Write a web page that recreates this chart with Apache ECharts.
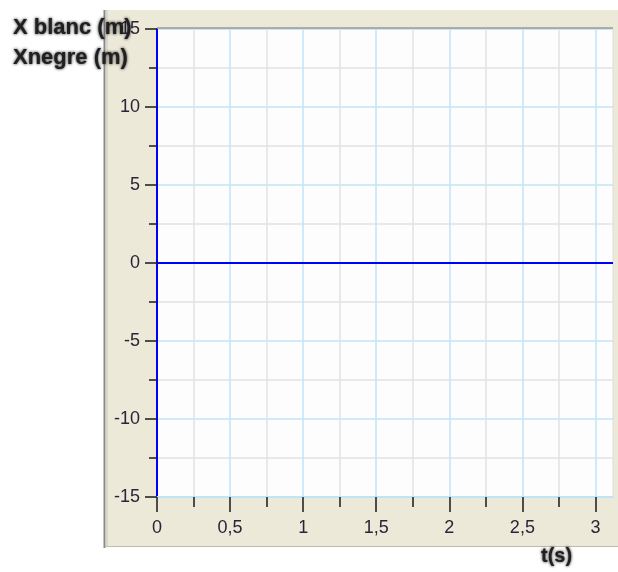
<!DOCTYPE html>
<html>
<head>
<meta charset="utf-8">
<script src="https://cdn.jsdelivr.net/npm/echarts@6/dist/echarts.min.js"></script>
<style>
  html, body { margin: 0; padding: 0; background: #ffffff; }
  #chart { width: 618px; height: 572px; }
</style>
</head>
<body>
<div id="chart"></div>
<script>
// Time samples (s) and positions (m) of the two pieces
const time = [0, 3.12];
const xBlanc = [0, 0];
const xNegre = [0, 0];

// Axis ranges and ticks
const tMin = 0, tMax = 3.12;
const tMajorTicks = [0, 0.5, 1, 1.5, 2, 2.5, 3];
const tMinorTicks = [0.25, 0.75, 1.25, 1.75, 2.25, 2.75];
const yMin = -15, yMax = 15, yStep = 5;
const yTitles = ['X blanc (m)', 'Xnegre (m)'];
const tTitle = 't(s)';

const labelFont = '"Liberation Sans", Arial, sans-serif';
const titleFont = 'bold 22px "Liberation Sans", Arial, sans-serif';
const labelColor = '#2b2438';
const majorGrid = '#bfe4f8';
const minorGrid = '#e2e2e2';
const tickColor = '#1a1a1a';

const pairs = (xs, ys) => xs.map((x, i) => [x, ys[i]]);
const commaNum = v => String(v).replace('.', ',');
const titleStyle = text => ({
  text, font: titleFont, fill: '#202020',
  textShadowColor: 'rgba(10,10,10,0.95)', textShadowBlur: 3
});

const chart = echarts.init(document.getElementById('chart'));
chart.setOption({
  animation: false,
  graphic: [
    // beige panel behind the plot
    { type: 'rect', z: -10, shape: { x: 106, y: 10, width: 512, height: 536 },
      style: { fill: '#ece9d8' } },
    { type: 'line', z: -9, shape: { x1: 104.5, y1: 10, x2: 104.5, y2: 548 },
      style: { stroke: '#8a8a8a', lineWidth: 2 } },
    { type: 'line', z: -9, shape: { x1: 107, y1: 10, x2: 107, y2: 546 },
      style: { stroke: '#c8c6b8', lineWidth: 1 } },
    { type: 'line', z: -9, shape: { x1: 106, y1: 546.5, x2: 618, y2: 546.5 },
      style: { stroke: '#bdbbae', lineWidth: 1 } },
    { type: 'line', z: 5, shape: { x1: 157, y1: 28, x2: 613, y2: 28 },
      style: { stroke: '#9c9a90', lineWidth: 1.5 } },
    // axis titles
    { type: 'text', z: 20, left: 13, top: 17, style: titleStyle(yTitles[0]) },
    { type: 'text', z: 20, left: 13, top: 47, style: titleStyle(yTitles[1]) },
    { type: 'text', z: 20, left: 541, top: 546,
      style: Object.assign(titleStyle(tTitle), { font: 'bold 20px "Liberation Sans", Arial, sans-serif' }) }
  ],
  grid: {
    left: 157, top: 29, width: 456, height: 468,
    show: true, backgroundColor: '#fdfdfd', borderColor: '#dcdcdc', borderWidth: 1
  },
  xAxis: [
    {
      // minor quarter-second ticks and grid lines
      type: 'value', min: tMin, max: tMax, position: 'bottom',
      axisLine: { show: false, onZero: false },
      axisTick: { show: true, length: 10, customValues: tMinorTicks,
        lineStyle: { color: tickColor, width: 1.5 } },
      axisLabel: { show: false },
      splitLine: { show: true, lineStyle: { color: minorGrid, width: 1.5 } }
    },
    {
      // major half-second ticks, labels and grid lines
      type: 'value', min: tMin, max: tMax, position: 'bottom',
      axisLine: { show: true, onZero: false, lineStyle: { color: majorGrid, width: 2 } },
      axisTick: { show: true, length: 15, customValues: tMajorTicks,
        lineStyle: { color: tickColor, width: 1.5 } },
      splitLine: { show: true, lineStyle: { color: majorGrid, width: 1.5 } },
      axisLabel: {
        margin: 22, fontSize: 18, fontFamily: labelFont, color: labelColor,
        customValues: tMajorTicks, formatter: v => commaNum(v)
      }
    }
  ],
  yAxis: {
    type: 'value', min: yMin, max: yMax, interval: yStep,
    axisLine: { show: true, onZero: false, lineStyle: { color: '#0000ff', width: 2 } },
    axisTick: { show: true, length: 12, lineStyle: { color: tickColor, width: 1.5 } },
    minorTick: { show: true, splitNumber: 2, length: 8, lineStyle: { color: tickColor, width: 1.5 } },
    splitLine: { show: true, lineStyle: { color: majorGrid, width: 1.5 } },
    minorSplitLine: { show: true, lineStyle: { color: minorGrid, width: 1.5 } },
    axisLabel: { margin: 17, fontSize: 18, fontFamily: labelFont, color: labelColor,
      formatter: v => commaNum(v) }
  },
  series: [
    { name: 'X blanc', type: 'line', xAxisIndex: 1, data: pairs(time, xBlanc), showSymbol: false,
      lineStyle: { color: '#0000ff', width: 2 }, z: 10 },
    { name: 'Xnegre', type: 'line', xAxisIndex: 1, data: pairs(time, xNegre), showSymbol: false,
      lineStyle: { color: '#0000ff', width: 2 }, z: 10 }
  ]
});
</script>
</body>
</html>
